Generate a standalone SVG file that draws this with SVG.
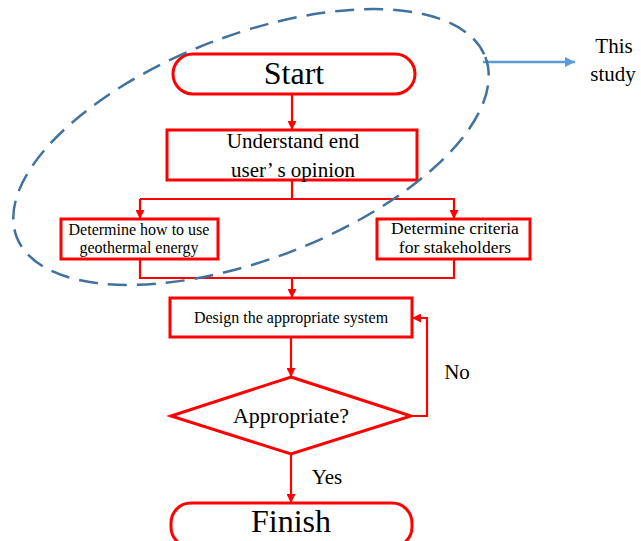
<svg xmlns="http://www.w3.org/2000/svg" width="641" height="541" viewBox="0 0 641 541">
<defs>
<style>
.box{fill:#fff;stroke:#ff0000;stroke-width:3}
.ln{fill:none;stroke:#ff0000;stroke-width:2.2}
.t{font-family:"Liberation Serif","Times New Roman",serif;fill:#000;text-anchor:middle}
</style>
<marker id="ar" viewBox="0 0 10 10" refX="10" refY="5" markerWidth="9" markerHeight="9" markerUnits="userSpaceOnUse" orient="auto">
<path d="M0,0 L10,5 L0,10 z" fill="#ff0000"/>
</marker>
<marker id="ab" viewBox="0 0 10 10" refX="10" refY="5" markerWidth="10" markerHeight="10" markerUnits="userSpaceOnUse" orient="auto">
<path d="M0,0 L10,5 L0,10 z" fill="#5b9bd5"/>
</marker>
</defs>
<rect width="641" height="541" fill="#fff"/>
<g id="connectors">
<line class="ln" x1="292" y1="94" x2="292" y2="130" marker-end="url(#ar)"/>
<polyline class="ln" points="292,180 292,199"/>
<polyline class="ln" points="140,199 454,199 454,219" marker-end="url(#ar)"/>
<line class="ln" x1="140" y1="199" x2="140" y2="219" marker-end="url(#ar)"/>
<polyline class="ln" points="140,259 140,278 454,278 454,259"/>
<line class="ln" x1="292" y1="278" x2="292" y2="298" marker-end="url(#ar)"/>
<line class="ln" x1="291" y1="337" x2="291" y2="377" marker-end="url(#ar)"/>
<polyline class="ln" points="412,416 427,416 427,318 412,318" marker-end="url(#ar)"/>
<line class="ln" x1="291" y1="454" x2="291" y2="503" marker-end="url(#ar)"/>
<line x1="483" y1="62" x2="575" y2="62" stroke="#5b9bd5" stroke-width="2.5" marker-end="url(#ab)"/>
</g>
<g id="start"><rect class="box" x="173" y="54" width="242" height="40" rx="20"/><text class="t" x="294" y="84" font-size="32">Start</text></g>
<g id="understand"><rect class="box" x="167" y="130" width="250" height="50"/><text class="t" x="293" y="148" font-size="21">Understand end</text><text class="t" x="293" y="177" font-size="21">user’ s opinion</text></g>
<g id="howuse"><rect class="box" x="61" y="219" width="157" height="40"/><text class="t" x="139" y="235" font-size="16">Determine how to use</text><text class="t" x="139" y="253" font-size="16">geothermal energy</text></g>
<g id="criteria"><rect class="box" x="377" y="219" width="153" height="40"/><text class="t" x="455" y="234" font-size="17.5">Determine criteria</text><text class="t" x="455" y="253" font-size="17.5">for stakeholders</text></g>
<g id="design"><rect class="box" x="170" y="298" width="242" height="39"/><text class="t" x="291" y="323" font-size="16">Design the appropriate system</text></g>
<g id="decision"><polygon class="box" points="291,377 411,416 291,454 171,416"/><text class="t" x="291" y="423" font-size="22">Appropriate?</text></g>
<g id="finish"><rect class="box" x="171" y="503" width="241" height="44" rx="20"/><text class="t" x="291" y="532" font-size="32">Finish</text></g>
<g id="labels">
<text class="t" x="457" y="379" font-size="21">No</text>
<text class="t" x="327" y="484" font-size="21">Yes</text>
<text class="t" x="614" y="53" font-size="21">This</text>
<text class="t" x="613" y="81" font-size="21">study</text>
</g>
<g id="scope"><ellipse cx="251" cy="147" rx="251" ry="112" transform="rotate(-21 251 147)" fill="none" stroke="#41719c" stroke-width="2.5" stroke-dasharray="19 10"/></g>
</svg>
